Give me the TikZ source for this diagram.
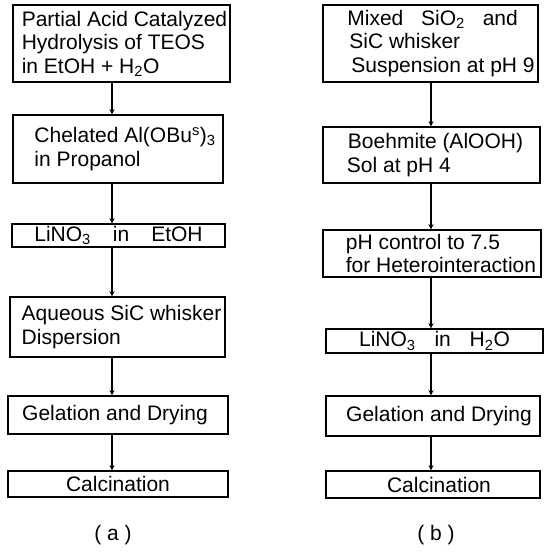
\documentclass[tikz,border=0pt]{standalone}
\usepackage{fontspec}
\setmainfont{Liberation Sans}
\usepackage{tikz}
\usetikzlibrary{arrows}

\begin{document}
\begin{tikzpicture}[x=1pt,y=-1pt]
							\tikzstyle{stepbox}=[rectangle,draw=black,line width=1.4pt,inner xsep=2pt,inner ysep=0pt,align=left,font=\fontsize{21}{23.5}\selectfont]
							\tikzstyle{flow}=[line width=1.3pt,-stealth]
							\useasboundingbox (0,0) rectangle (546,552);
							\node[stepbox,minimum width=217pt,minimum height=77pt] (a1) at (121.5,43.5) {\hspace*{6pt}Partial Acid Catalyzed\\\hspace*{6pt}Hydrolysis of TEOS\\\hspace*{6pt}in EtOH + H\textsubscript{2}O};
							\node[stepbox,minimum width=210pt,minimum height=68pt] (a2) at (118,149) {\hspace*{14pt}Chelated Al(OBu\textsuperscript{s})\textsubscript{3}\\\hspace*{14pt}in Propanol};
							\node[stepbox,minimum width=213pt,minimum height=23pt] (a3) at (118.5,235.5) {LiNO\textsubscript{3}\hspace{1.05em}in\hspace{1.05em}EtOH};
							\node[stepbox,minimum width=215pt,minimum height=60pt] (a4) at (117.5,327) {\hspace*{8pt}Aqueous SiC whisker\\\hspace*{8pt}Dispersion};
							\node[stepbox,minimum width=220pt,minimum height=38pt] (a5) at (118,415) {Gelation and Drying\hspace*{6pt}};
							\node[stepbox,minimum width=220pt,minimum height=26pt] (a6) at (118,484) {Calcination};
							\node[font=\fontsize{21}{23.5}\selectfont] (la) at (113,535) {( a )};
							\node[stepbox,minimum width=215pt,minimum height=77pt] (b1) at (430.5,43.5) {\hspace*{21pt}Mixed\hspace{0.85em}SiO\textsubscript{2}\hspace{0.85em}and\\\hspace*{23pt}SiC whisker\\\hspace*{25pt}Suspension at pH 9};
							\node[stepbox,minimum width=217pt,minimum height=56pt] (b2) at (431.5,155) {\hspace*{8pt}Boehmite (AlOOH)\\\hspace*{7pt}Sol at pH 4};
							\node[stepbox,minimum width=218pt,minimum height=47pt] (b3) at (432,253.5) {\hspace*{18pt}pH control to 7.5\\\hspace*{18pt}for Heterointeraction};
							\node[stepbox,minimum width=217pt,minimum height=24pt] (b4) at (434.5,341) {LiNO\textsubscript{3}\hspace{0.9em}in\hspace{0.9em}H\textsubscript{2}O};
							\node[stepbox,minimum width=214pt,minimum height=40pt] (b5) at (433,416) {\hspace*{12pt}Gelation and Drying};
							\node[stepbox,minimum width=214pt,minimum height=27pt] (b6) at (433,484.5) {\hspace*{12pt}Calcination};
							\node[font=\fontsize{21}{23.5}\selectfont] (lb) at (436,535) {( b )};
							\draw[flow] ([xshift=-9.5pt]a1.south) -- ([xshift=-6pt]a2.north);
							\draw[flow] ([xshift=-6pt]a2.south) -- ([xshift=-6.5pt]a3.north);
							\draw[flow] ([xshift=-6.5pt]a3.south) -- ([xshift=-5.5pt]a4.north);
							\draw[flow] ([xshift=-5.5pt]a4.south) -- ([xshift=-6pt]a5.north);
							\draw[flow] ([xshift=-6pt]a5.south) -- ([xshift=-6pt]a6.north);
							\draw[flow] ([xshift=0.5pt]b1.south) -- ([xshift=-0.5pt]b2.north);
							\draw[flow] ([xshift=-0.5pt]b2.south) -- ([xshift=-1pt]b3.north);
							\draw[flow] ([xshift=-1pt]b3.south) -- ([xshift=-3.5pt]b4.north);
							\draw[flow] ([xshift=-3.5pt]b4.south) -- ([xshift=-2pt]b5.north);
							\draw[flow] ([xshift=-2pt]b5.south) -- ([xshift=-2pt]b6.north);
							\end{tikzpicture}
\end{document}
